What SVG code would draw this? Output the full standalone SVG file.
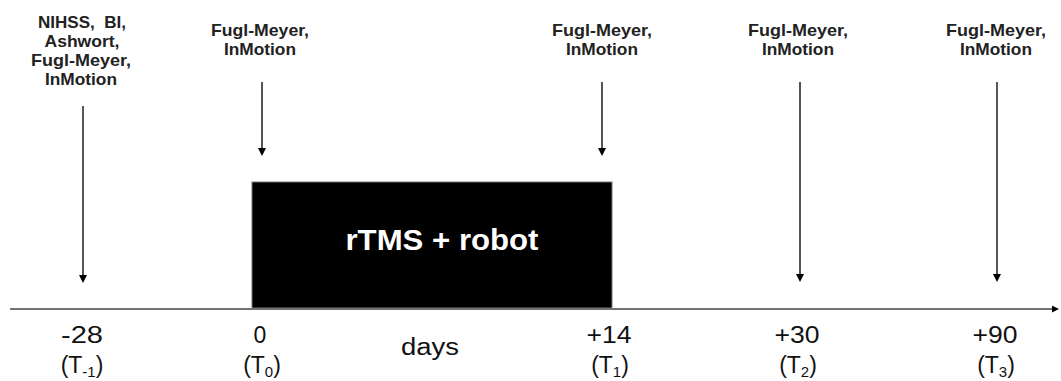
<svg xmlns="http://www.w3.org/2000/svg" width="1061" height="381" viewBox="0 0 1061 381">
  <style>
    .lbl { font-family: "Liberation Sans", Arial, sans-serif; font-weight: bold; font-size: 16.5px; fill: #222; text-anchor: middle; }
    .tick { font-family: "Liberation Sans", Arial, sans-serif; font-size: 23px; fill: #111; text-anchor: middle; }
    .sub { font-size: 15px; }
    .box { fill: #000; stroke: #777; stroke-width: 1; }
    .boxtxt { font-family: "Liberation Sans", Arial, sans-serif; font-weight: bold; font-size: 29px; fill: #fff; text-anchor: middle; }
    .arr { stroke: #555; stroke-width: 2; fill: none; marker-end: url(#ah); }
    .axis { stroke: #444; stroke-width: 1.6; fill: none; marker-end: url(#ah2); }
  </style>
  <defs>
    <marker id="ah" markerUnits="userSpaceOnUse" markerWidth="9" markerHeight="9" refX="4" refY="4" orient="auto">
      <path d="M0,0 L8,4 L0,8 z" fill="#000"/>
    </marker>
    <marker id="ah2" markerUnits="userSpaceOnUse" markerWidth="9" markerHeight="9" refX="4" refY="3.5" orient="auto">
      <path d="M0,0 L7,3.5 L0,7 z" fill="#000"/>
    </marker>
  </defs>
  <rect width="1061" height="381" fill="#fff"/>

  <g id="connectors">
    <line class="axis" x1="10" y1="309" x2="1056" y2="309"/>
    <line class="arr" x1="83" y1="106" x2="83" y2="279"/>
    <line class="arr" x1="262" y1="82" x2="262" y2="152"/>
    <line class="arr" x1="602" y1="82" x2="602" y2="152"/>
    <line class="arr" x1="800" y1="82" x2="800" y2="278"/>
    <line class="arr" x1="997" y1="82" x2="997" y2="278"/>
  </g>

  <g id="treatment">
    <rect class="box" x="252" y="182" width="360" height="126"/>
    <text class="boxtxt" x="442" y="250" textLength="193" lengthAdjust="spacingAndGlyphs">rTMS + robot</text>
  </g>

  <g id="label-tm1">
    <text class="lbl" x="82" y="28" textLength="88" lengthAdjust="spacingAndGlyphs">NIHSS,&#160; BI,</text>
    <text class="lbl" x="82" y="47" textLength="75" lengthAdjust="spacingAndGlyphs">Ashwort,</text>
    <text class="lbl" x="81" y="66" textLength="100" lengthAdjust="spacingAndGlyphs">Fugl-Meyer,</text>
    <text class="lbl" x="81" y="85" textLength="72" lengthAdjust="spacingAndGlyphs">InMotion</text>
  </g>
  <g id="label-t0">
    <text class="lbl" x="260" y="36" textLength="98" lengthAdjust="spacingAndGlyphs">Fugl-Meyer,</text>
    <text class="lbl" x="260" y="55" textLength="72" lengthAdjust="spacingAndGlyphs">InMotion</text>
  </g>
  <g id="label-t1">
    <text class="lbl" x="602" y="36" textLength="100" lengthAdjust="spacingAndGlyphs">Fugl-Meyer,</text>
    <text class="lbl" x="602" y="55" textLength="72" lengthAdjust="spacingAndGlyphs">InMotion</text>
  </g>
  <g id="label-t2">
    <text class="lbl" x="798" y="36" textLength="100" lengthAdjust="spacingAndGlyphs">Fugl-Meyer,</text>
    <text class="lbl" x="798" y="55" textLength="72" lengthAdjust="spacingAndGlyphs">InMotion</text>
  </g>
  <g id="label-t3">
    <text class="lbl" x="996" y="36" textLength="100" lengthAdjust="spacingAndGlyphs">Fugl-Meyer,</text>
    <text class="lbl" x="996" y="55" textLength="72" lengthAdjust="spacingAndGlyphs">InMotion</text>
  </g>

  <g id="ticks">
    <text class="tick" x="82" y="343" textLength="42" lengthAdjust="spacingAndGlyphs">-28</text>
    <text class="tick" x="82" y="373">(T<tspan class="sub" dy="4">-1</tspan><tspan dy="-4">)</tspan></text>
    <text class="tick" x="260" y="343">0</text>
    <text class="tick" x="262" y="373">(T<tspan class="sub" dy="4">0</tspan><tspan dy="-4">)</tspan></text>
    <text class="tick" x="430" y="355" textLength="58" lengthAdjust="spacingAndGlyphs">days</text>
    <text class="tick" x="609" y="343" textLength="45" lengthAdjust="spacingAndGlyphs">+14</text>
    <text class="tick" x="610" y="373">(T<tspan class="sub" dy="4">1</tspan><tspan dy="-4">)</tspan></text>
    <text class="tick" x="797" y="343" textLength="45" lengthAdjust="spacingAndGlyphs">+30</text>
    <text class="tick" x="798" y="373">(T<tspan class="sub" dy="4">2</tspan><tspan dy="-4">)</tspan></text>
    <text class="tick" x="995" y="343" textLength="45" lengthAdjust="spacingAndGlyphs">+90</text>
    <text class="tick" x="996" y="373">(T<tspan class="sub" dy="4">3</tspan><tspan dy="-4">)</tspan></text>
  </g>
</svg>
